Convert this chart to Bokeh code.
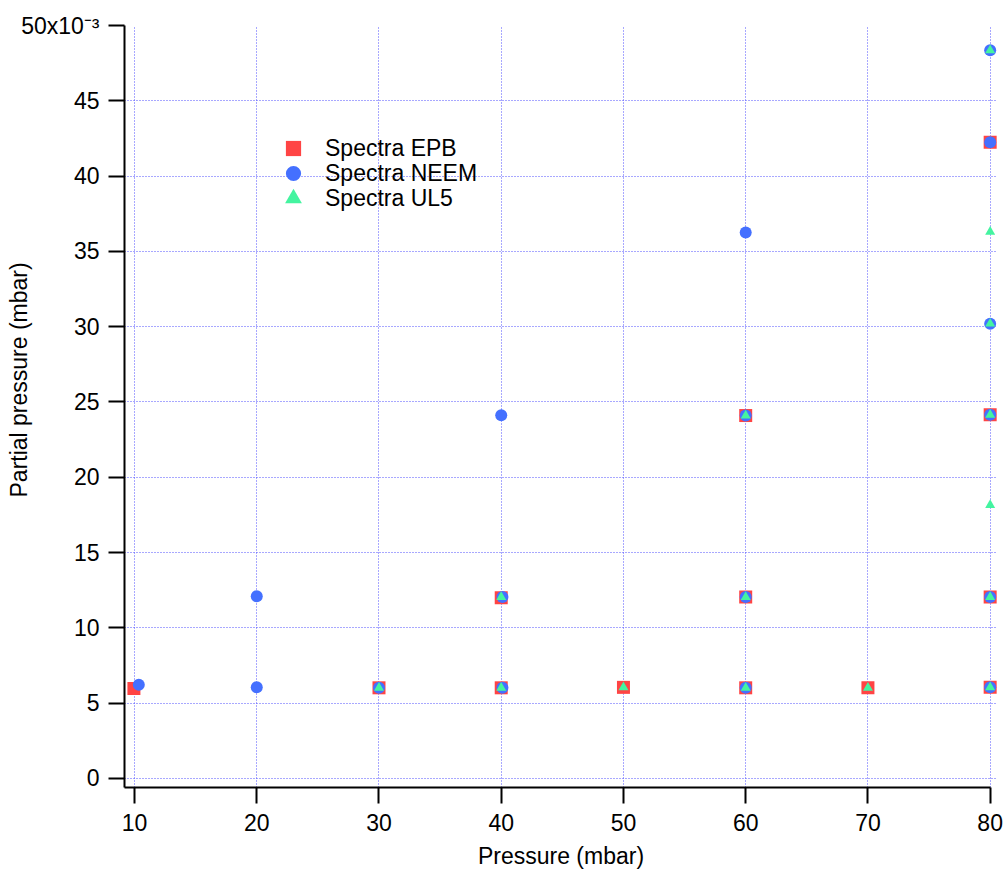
from bokeh.plotting import figure
from bokeh.models import Range1d, FixedTicker, Legend, LegendItem, Title
from bokeh.embed import file_html
from bokeh.resources import INLINE

# ---- data (partial pressure in units of 1e-3 mbar) ----
epb_x = [9.95, 30, 40, 40, 50, 60, 60, 60, 70, 80, 80, 80, 80]
epb_y = [5.98, 6.02, 6.02, 12.0, 6.05, 6.02, 12.05, 24.1, 6.02, 6.05, 12.05, 24.15, 42.25]

neem_x = [10.35, 20, 20, 30, 40.1, 40.1, 40, 60, 60, 60, 60, 80, 80, 80, 80, 80, 80]
neem_y = [6.22, 6.06, 12.1, 6.02, 6.02, 12.05, 24.12, 6.02, 12.05, 24.1, 36.25,
          6.05, 12.05, 24.15, 30.2, 42.25, 48.35]

ul5_x = [30, 40, 40, 50, 60, 60, 60, 70, 80, 80, 80, 80, 80, 80, 80]
ul5_y = [6.02, 6.02, 12.05, 6.05, 6.02, 12.05, 24.1, 6.02, 6.05, 12.05, 18.15, 24.15,
         30.2, 36.3, 48.35]

series_names = ["Spectra EPB", "Spectra NEEM", "Spectra UL5"]
x_ticks = [10, 20, 30, 40, 50, 60, 70, 80]
y_ticks = [0, 5, 10, 15, 20, 25, 30, 35, 40, 45, 50]
y_top_label = "50x10\u207b\u00b3"
x_title = "Pressure (mbar)"
y_title = "Partial pressure (mbar)"

FONT = "Liberation Sans"
FS = "23px"
RED = "#ff4444"
BLUE = "#4470ff"
GREEN = "#44f4a0"

p = figure(width=1006, height=871, output_backend="svg", toolbar_location=None,
           x_range=Range1d(9.18, 80.6), y_range=Range1d(-0.6, 50),
           min_border_left=124, min_border_right=9, min_border_top=25, min_border_bottom=83)
p.outline_line_color = None
p.background_fill_color = "white"
p.border_fill_color = "white"

for ax in (p.xaxis[0], p.yaxis[0]):
    ax.axis_line_color = "black"
    ax.axis_line_width = 2
    ax.major_tick_line_color = "black"
    ax.major_tick_line_width = 2
    ax.major_tick_out = 16
    ax.major_tick_in = 0
    ax.minor_tick_out = 0
    ax.minor_tick_in = 0
    ax.major_label_text_font = FONT
    ax.major_label_text_font_size = FS
    ax.major_label_text_color = "black"
    ax.axis_label_text_font = FONT
    ax.axis_label_text_font_size = FS
    ax.axis_label_text_font_style = "normal"
    ax.axis_label_text_color = "black"

p.xaxis.ticker = FixedTicker(ticks=x_ticks)
p.xaxis.bounds = (9.18, 80)
p.xaxis.major_label_standoff = 10
p.xaxis.axis_label = x_title
p.xaxis.axis_label_standoff = 9

p.yaxis.ticker = FixedTicker(ticks=y_ticks)
p.yaxis.major_label_standoff = 9
p.yaxis.major_label_overrides = {50: y_top_label}

p.add_layout(Title(text=y_title, align="left", offset=290, standoff=-26,
                   text_font=FONT, text_font_size=FS, text_font_style="normal",
                   text_color="black"), "left")

for g, t in ((p.xgrid[0], x_ticks), (p.ygrid[0], y_ticks)):
    g.ticker = FixedTicker(ticks=t)
    g.grid_line_color = "#5050ff"
    g.grid_line_alpha = 1.0
    g.grid_line_dash = "1 2"
    g.grid_line_width = 1

r1 = p.scatter(epb_x, epb_y, marker="square", size=13, fill_color=RED, line_color=None)
r2 = p.scatter(neem_x, neem_y, marker="circle", size=12, fill_color=BLUE, line_color=None)
r3 = p.scatter(ul5_x, ul5_y, marker="triangle", size=10, fill_color=GREEN, line_color=None)

legend_specs = [(r1, 38, (150, 620), 13), (r2, 38, (150, 595), 13), (r3, 42, (148, 568), 11)]
for name, (r, gsize, loc, standoff) in zip(series_names, legend_specs):
    lg = Legend(items=[LegendItem(label=name, renderers=[r])],
                location=loc, padding=0, spacing=0, margin=0,
                glyph_width=gsize, glyph_height=gsize, label_height=gsize,
                label_standoff=standoff,
                label_text_font=FONT, label_text_font_size=FS, label_text_color="black",
                border_line_color=None, background_fill_alpha=0)
    p.add_layout(lg)

open("out.html", "w").write(file_html(p, INLINE))
